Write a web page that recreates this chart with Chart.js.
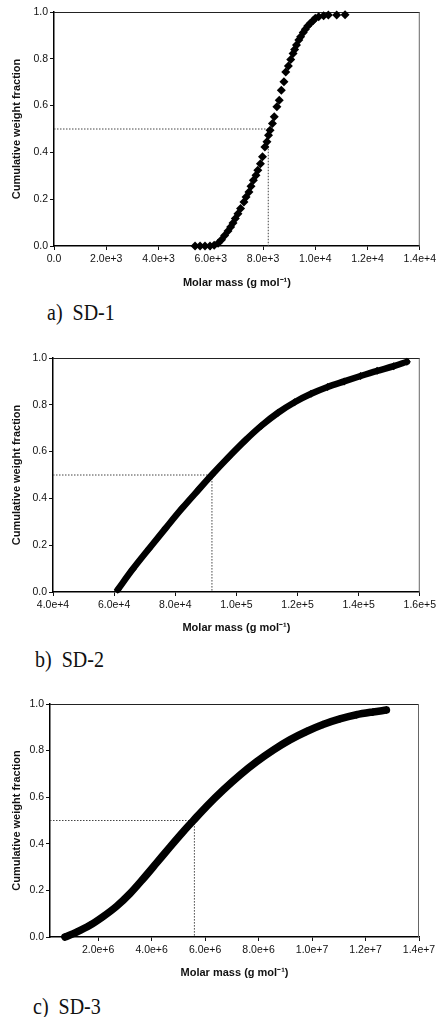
<!DOCTYPE html>
<html>
<head>
<meta charset="utf-8">
<script src="https://cdn.jsdelivr.net/npm/chart.js@4.4.0/dist/chart.umd.min.js"></script>
<style>
    body { margin: 0; background: #fff; width: 439px; height: 1017px; position: relative; overflow: hidden; }
    .box { position: absolute; left: 0; width: 439px; }
    .caption {
        position: absolute;
        font-family: "Liberation Serif", "Times New Roman", serif;
        font-size: 20px;
        line-height: 20px;
        color: #111;
        transform: scaleY(1.15);
        white-space: nowrap;
    }
</style>
</head>
<body>
<div class="box" style="top:0;height:295px"><canvas id="sd1Chart"></canvas></div>
<div class="caption" style="left:47px;top:302px">a)&nbsp; SD-1</div>

<div class="box" style="top:346px;height:294px"><canvas id="sd2Chart"></canvas></div>
<div class="caption" style="left:35px;top:649px">b)&nbsp; SD-2</div>

<div class="box" style="top:692px;height:293px"><canvas id="sd3Chart"></canvas></div>
<div class="caption" style="left:33px;top:996px">c)&nbsp; SD-3</div>

<script>
// SD-1 cumulative distribution (molar mass, weight fraction)
const sd1Mass = [5400, 5590, 5780, 5970, 6130, 6280, 6410, 6530, 6660, 6760, 6850, 6940, 7040, 7140, 7270, 7350,
    7460, 7540, 7630, 7730, 7800, 7900, 7980, 8070, 8150, 8210, 8270, 8360, 8430, 8530, 8620, 8700, 8800, 8870,
    8970, 9060, 9150, 9210, 9280, 9370, 9440, 9540, 9620, 9710, 9810, 9910, 10000, 10130, 10320, 10500, 10820, 11140];
const sd1Frac = [0, 0, 0, 0, 0.003, 0.012, 0.027, 0.045, 0.064, 0.081, 0.098, 0.117, 0.138, 0.160, 0.188, 0.209,
    0.231, 0.255, 0.281, 0.302, 0.324, 0.352, 0.381, 0.423, 0.445, 0.473, 0.495, 0.523, 0.552, 0.595, 0.623, 0.666,
    0.702, 0.744, 0.769, 0.797, 0.823, 0.840, 0.859, 0.880, 0.894, 0.912, 0.926, 0.940, 0.952, 0.963, 0.973, 0.980,
    0.984, 0.987, 0.987, 0.988];
const sd1Median = 8200;
const sd1Ticks = [0, 2000, 4000, 6000, 8000, 10000, 12000, 14000];

// SD-2
const sd2Mass = [61180, 66040, 71460, 76870, 82260, 87670, 91990, 97400, 102820, 108200, 113620, 119030,
    124430, 129830, 135250, 140620, 146050, 151460, 155770];
const sd2Frac = [0.010, 0.097, 0.186, 0.273, 0.358, 0.438, 0.501, 0.576, 0.647, 0.711, 0.766, 0.811,
    0.847, 0.876, 0.900, 0.923, 0.945, 0.965, 0.984];
const sd2Median = 92000;
const sd2Ticks = [40000, 60000, 80000, 100000, 120000, 140000, 160000];

// SD-3
const sd3Mass = [759000, 1193000, 1693000, 2191000, 2692000, 3189000, 3686000, 4187000, 4684000, 5181000,
    5555000, 6056000, 6677000, 7301000, 7925000, 8546000, 9170000, 9794000, 10410000, 11040000, 11660000,
    12280000, 12780000];
const sd3Frac = [0, 0.021, 0.050, 0.088, 0.132, 0.186, 0.250, 0.318, 0.386, 0.452,
    0.499, 0.561, 0.631, 0.695, 0.752, 0.802, 0.846, 0.882, 0.912, 0.936, 0.954,
    0.966, 0.974];
const sd3Median = 5600000;
const sd3Ticks = [2000000, 4000000, 6000000, 8000000, 10000000, 12000000, 14000000];

const yTicks = [0, 0.2, 0.4, 0.6, 0.8, 1.0];

Chart.defaults.font.family = '"Liberation Sans", Arial, sans-serif';
Chart.defaults.color = '#111';

// top and right edges of the plot box
const framePlugin = {
    id: 'frame',
    beforeDatasetsDraw(chart) {
        const { ctx, chartArea: a } = chart;
        ctx.save();
        ctx.lineWidth = 1;
        ctx.strokeStyle = '#222';
        ctx.beginPath();
        ctx.moveTo(a.left, a.top + 0.5);
        ctx.lineTo(a.right, a.top + 0.5);
        ctx.stroke();
        ctx.strokeStyle = '#666';
        ctx.beginPath();
        ctx.moveTo(a.right - 0.5, a.top);
        ctx.lineTo(a.right - 0.5, a.bottom);
        ctx.stroke();
        ctx.restore();
    }
};

function toPoints(xs, ys) {
    return xs.map((x, i) => ({ x: x, y: ys[i] }));
}

function formatMass(value) {
    if (value === 0) return '0.0';
    return value.toExponential(1);
}

function drawDistribution(canvasId, cfg) {
    const ctx = document.getElementById(canvasId).getContext('2d');

    const markers = {
        data: toPoints(cfg.mass, cfg.frac),
        pointStyle: 'rectRot',
        pointRadius: cfg.pointRadius,
        pointBackgroundColor: '#000',
        pointBorderColor: '#000',
        pointBorderWidth: 0,
        showLine: cfg.line,
        borderColor: '#000',
        borderWidth: cfg.lineWidth,
        borderCapStyle: 'round',
        borderJoinStyle: 'round',
        cubicInterpolationMode: 'monotone',
        clip: false
    };

    const medianLine = {
        data: [{ x: cfg.xMin, y: 0.5 }, { x: cfg.median, y: 0.5 }, { x: cfg.median, y: 0 }],
        showLine: true,
        borderColor: '#444',
        borderWidth: 1,
        borderDash: [1.5, 1.5],
        pointRadius: 0,
        clip: false
    };

    return new Chart(ctx, {
        type: 'scatter',
        data: { datasets: [markers, medianLine] },
        options: {
            responsive: true,
            maintainAspectRatio: false,
            animation: false,
            events: [],
            layout: {
                autoPadding: false,
                padding: { top: 12, right: cfg.padRight, left: 0, bottom: 0 }
            },
            plugins: {
                legend: { display: false },
                tooltip: { enabled: false }
            },
            scales: {
                x: {
                    type: 'linear',
                    min: cfg.xMin,
                    max: cfg.xMax,
                    afterBuildTicks: axis => { axis.ticks = cfg.ticks.map(v => ({ value: v })); },
                    afterFit: scale => { scale.height = cfg.xHeight; },
                    grid: { drawOnChartArea: false, drawTicks: true, tickLength: 4, color: '#111' },
                    border: { display: true, color: '#000', width: 1.5 },
                    ticks: {
                        maxRotation: 0,
                        autoSkip: false,
                        padding: 3,
                        font: { size: 10.5 },
                        callback: value => formatMass(value)
                    },
                    title: {
                        display: true,
                        text: 'Molar mass (g mol⁻¹)',
                        font: { size: 11, weight: 'bold' },
                        padding: { top: 0, bottom: 5 }
                    }
                },
                y: {
                    min: 0,
                    max: 1,
                    afterBuildTicks: axis => { axis.ticks = yTicks.map(v => ({ value: v })); },
                    afterFit: scale => { scale.width = cfg.yWidth; },
                    grid: { drawOnChartArea: false, drawTicks: true, tickLength: 4, color: '#111' },
                    border: { display: true, color: '#000', width: 1.5 },
                    ticks: {
                        padding: 2,
                        font: { size: 10.5 },
                        callback: value => Number(value).toFixed(1)
                    },
                    title: {
                        display: true,
                        text: 'Cumulative weight fraction',
                        font: { size: 11, weight: 'bold' },
                        padding: { top: 10, bottom: 0 }
                    }
                }
            }
        },
        plugins: [framePlugin]
    });
}

drawDistribution('sd1Chart', {
    mass: sd1Mass, frac: sd1Frac, median: sd1Median, ticks: sd1Ticks,
    xMin: 0, xMax: 14000, yWidth: 54, xHeight: 49, padRight: 15,
    pointRadius: 4.5, line: false, lineWidth: 0
});

drawDistribution('sd2Chart', {
    mass: sd2Mass, frac: sd2Frac, median: sd2Median, ticks: sd2Ticks,
    xMin: 40000, xMax: 160000, yWidth: 53, xHeight: 48, padRight: 16,
    pointRadius: 4, line: true, lineWidth: 6.5
});

drawDistribution('sd3Chart', {
    mass: sd3Mass, frac: sd3Frac, median: sd3Median, ticks: sd3Ticks,
    xMin: 200000, xMax: 14000000, yWidth: 50, xHeight: 48, padRight: 20,
    pointRadius: 4, line: true, lineWidth: 7.5
});
</script>
</body>
</html>
